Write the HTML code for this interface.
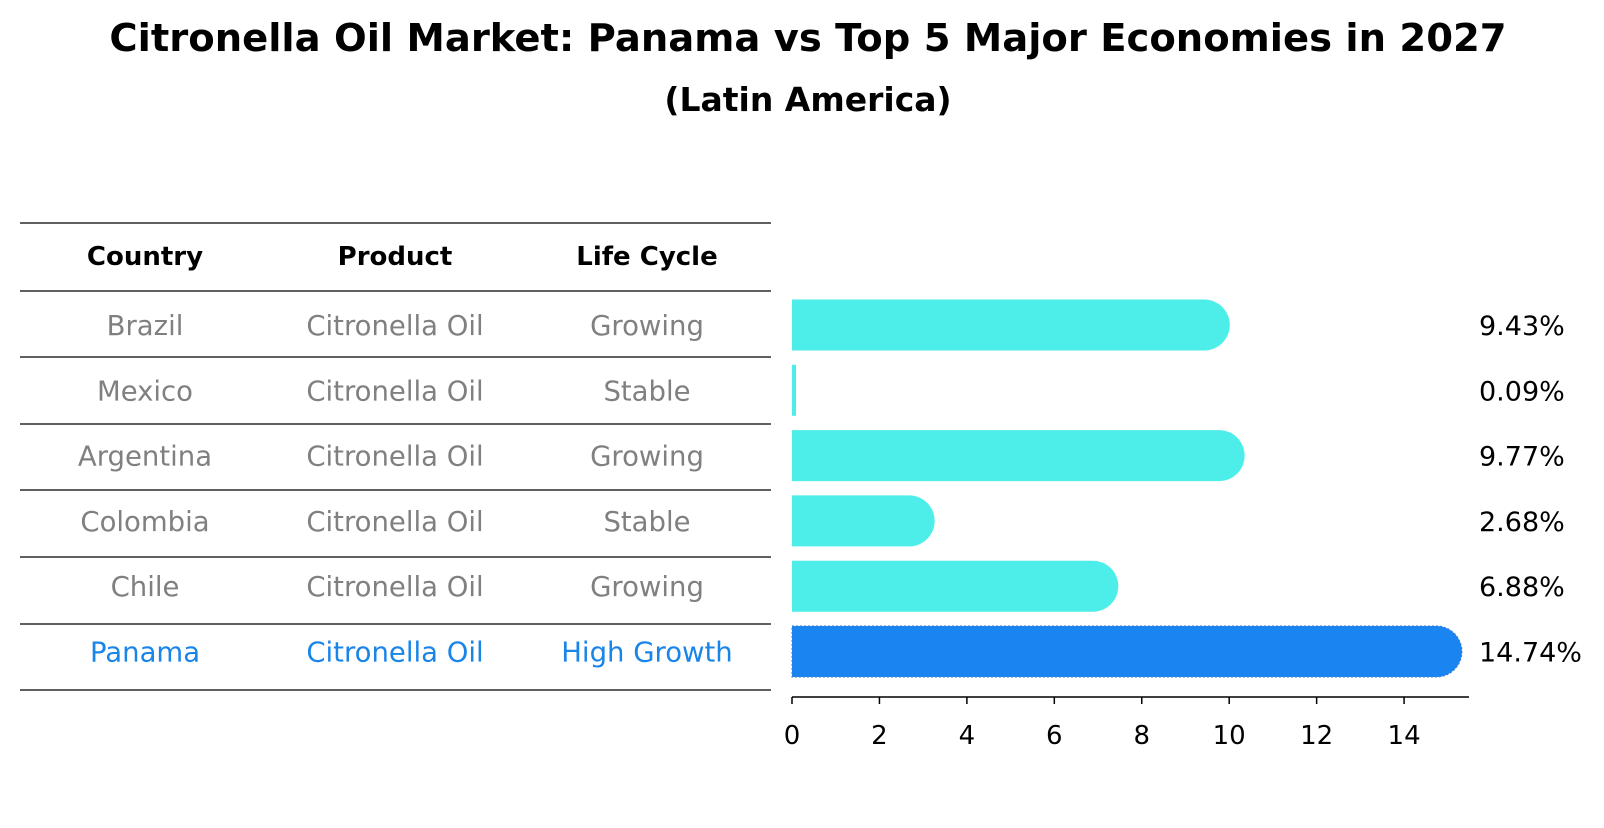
<!DOCTYPE html>
<html><head><meta charset="utf-8"><style>
body{margin:0;background:#fff;font-family:"Liberation Sans","DejaVu Sans",sans-serif}
</style></head><body>
<svg width="1604" height="823" xmlns="http://www.w3.org/2000/svg" font-family="DejaVu Sans, Liberation Sans, sans-serif">
<text x="808" y="51" text-anchor="middle" font-size="38.5" font-weight="bold">Citronella Oil Market: Panama vs Top 5 Major Economies in 2027</text>
<text x="808" y="111" text-anchor="middle" font-size="33" font-weight="bold">(Latin America)</text>
<g id="table"></g>
<g id="bars"></g>
</svg>
<script>
const countries=["Brazil","Mexico","Argentina","Colombia","Chile","Panama"];
const products=["Citronella Oil","Citronella Oil","Citronella Oil","Citronella Oil","Citronella Oil","Citronella Oil"];
const lifeCycle=["Growing","Stable","Growing","Stable","Growing","High Growth"];
const values=[9.43,0.09,9.77,2.68,6.88,14.74];
const ticks=[0,2,4,6,8,10,12,14];
const NS="http://www.w3.org/2000/svg";
function mk(t,a,p){const e=document.createElementNS(NS,t);for(const k in a)e.setAttribute(k,a[k]);p.appendChild(e);return e;}
const tbl=document.getElementById('table'),bars=document.getElementById('bars');
const lineY=[223,291,357,424,490,557,624,690];
const colX=[145,395,647];
lineY.forEach(y=>{const l=mk('line',{x1:20,x2:771,y1:y,y2:y,stroke:'#000','stroke-width':1.2},tbl);

});
["Country","Product","Life Cycle"].forEach((h,i)=>{const t=mk('text',{x:colX[i],y:265,'text-anchor':'middle','font-size':26,'font-weight':'bold'},tbl);t.textContent=h;

});
const x0=792,unit=43.72;
function xs(v){return x0+v*unit;}
function yc(i){return 325+i*65.3;}
countries.forEach((c,i)=>{const hl=i===countries.length-1;const col=hl?'#1a85e8':'#808080';
[c,products[i],lifeCycle[i]].forEach((s,j)=>{const t=mk('text',{x:colX[j],y:yc(i)+10,'text-anchor':'middle','font-size':27.5,fill:col},tbl);t.textContent=s;

});
const v=values[i],fill=hl?'#1a85f0':'#4deeea',h=51,r=25.5;
const g=mk('g',{},bars);


const w=xs(v)-x0;
if(v>1){mk('path',{d:`M${x0} ${yc(i)-h/2} H${xs(v)} A${r} ${r} 0 0 1 ${xs(v)} ${yc(i)+h/2} H${x0} Z`,fill:fill,stroke:hl?'#3a7bd5':'none','stroke-dasharray':hl?'2 2':'none'},g);}
else mk('rect',{x:x0,y:yc(i)-h/2,width:Math.max(w,4),height:h,fill:fill},g);
const lt=mk('text',{x:1479,y:yc(i)+10,'font-size':27},bars);lt.textContent=v.toFixed(2)+'%';

});
const ax=mk('line',{x1:x0,x2:1469,y1:697,y2:697,stroke:'#000','stroke-width':1.5},bars);


ticks.forEach(t=>{mk('line',{x1:xs(t),x2:xs(t),y1:697,y2:704,stroke:'#000','stroke-width':1.5},bars);
const tt=mk('text',{x:xs(t),y:744,'text-anchor':'middle','font-size':26},bars);tt.textContent=t;

});
</script>
</body></html>
